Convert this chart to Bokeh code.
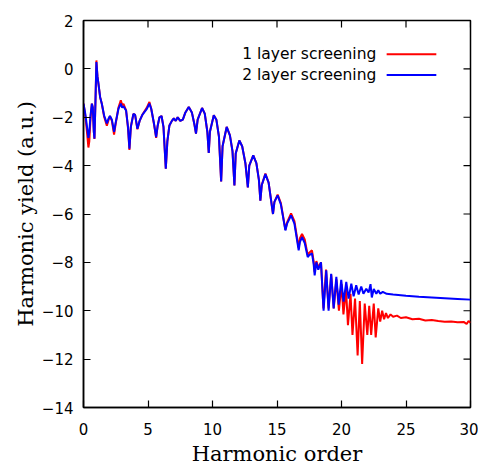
from bokeh.plotting import figure
from bokeh.models import Range1d, FixedTicker, Label, Arrow
from bokeh.embed import file_html
from bokeh.resources import INLINE

# ---- data ----
x_ticks = [0, 5, 10, 15, 20, 25, 30]
y_ticks = [-14, -12, -10, -8, -6, -4, -2, 0, 2]

blue_label = "2 layer screening"
red_label = "1 layer screening"

blue_x = [0.0, 0.12, 0.25, 0.38, 0.45, 0.55, 0.65, 0.72, 0.8, 0.85, 0.92, 1.0, 1.08, 1.16, 1.29, 1.42,
          1.6, 1.81, 1.95, 2.05, 2.2, 2.37, 2.5, 2.58, 2.71, 2.89, 3.0, 3.1, 3.3, 3.45, 3.56, 3.67,
          3.87, 4.0, 4.18, 4.35, 4.56, 4.91, 5.11, 5.25, 5.47, 5.63, 5.75, 5.89, 6.05, 6.2, 6.38, 6.5,
          6.66, 6.85, 7.0, 7.15, 7.3, 7.5, 7.7, 7.9, 8.16, 8.4, 8.6, 8.72, 8.85, 9.19, 9.4, 9.6,
          9.71, 9.8, 10.1, 10.3, 10.5, 10.67, 10.78, 11.1, 11.35, 11.55, 11.7, 11.8, 12.08, 12.3,
          12.55, 12.74, 12.85, 13.16, 13.4, 13.6, 13.71, 13.82, 14.1, 14.35, 14.69, 14.8, 15.05,
          15.3, 15.65, 15.78, 16.09, 16.35, 16.68, 16.78, 16.94, 17.15, 17.38, 17.5, 17.71, 17.84,
          17.92, 18.05, 18.2, 18.41, 18.61, 18.82, 19.0, 19.2, 19.39, 19.6, 19.78, 19.98, 20.16,
          20.37, 20.55, 20.76, 20.94, 21.14, 21.33, 21.53, 21.7, 21.92, 22.1, 22.25, 22.35, 22.5,
          22.7, 22.85, 23.0, 23.2, 23.5, 24.0, 25.0, 26.0, 27.0, 28.0, 29.0, 30.0]
blue_y = [-1.44, -1.8, -2.3, -2.85, -2.6, -1.9, -1.44, -1.6, -2.6, -2.88, -1.5, 0.28, -0.3, -0.62,
          -1.17, -1.44, -1.93, -2.25, -2.05, -1.95, -2.1, -2.6, -2.2, -2.0, -1.65, -1.44, -1.6,
          -1.55, -1.72, -2.4, -3.3, -2.4, -1.86, -1.9, -2.48, -2.15, -1.9, -1.65, -1.44, -1.65,
          -2.27, -2.82, -2.35, -2.0, -1.95, -2.4, -4.13, -3.0, -2.34, -2.15, -2.05, -2.15, -2.0,
          -2.15, -2.1, -1.8, -1.58, -1.8, -2.3, -2.68, -2.1, -1.62, -1.85, -2.6, -3.48, -2.6, -1.92,
          -2.1, -2.8, -4.65, -3.2, -2.4, -2.75, -3.4, -4.82, -3.5, -2.96, -3.2, -3.9, -4.9, -4.0,
          -3.58, -3.9, -4.6, -5.45, -4.8, -4.35, -4.7, -6.0, -5.5, -5.23, -5.6, -6.68, -6.4, -6.06,
          -6.4, -7.5, -7.15, -6.96, -7.2, -7.78, -7.7, -7.63, -8.06, -8.54, -8.0, -8.3, -8.0, -10.0,
          -8.33, -10.0, -8.47, -9.9, -8.6, -9.75, -8.72, -9.62, -8.81, -9.5, -8.88, -9.4, -8.95,
          -9.33, -9.0, -9.3, -9.09, -9.25, -8.9, -9.45, -9.1, -9.3, -9.15, -9.3, -9.22, -9.3, -9.33,
          -9.38, -9.42, -9.45, -9.48, -9.51, -9.54]

red_x = [0.0, 0.12, 0.25, 0.38, 0.45, 0.55, 0.65, 0.72, 0.8, 0.85, 0.92, 1.0, 1.08, 1.16, 1.29, 1.42,
         1.6, 1.81, 1.95, 2.05, 2.2, 2.37, 2.5, 2.58, 2.71, 2.89, 3.0, 3.1, 3.3, 3.45, 3.56, 3.67,
         3.87, 4.0, 4.18, 4.35, 4.56, 4.91, 5.11, 5.25, 5.47, 5.63, 5.75, 5.89, 6.05, 6.2, 6.38, 6.5,
         6.66, 6.85, 7.0, 7.15, 7.3, 7.5, 7.7, 7.9, 8.16, 8.4, 8.6, 8.72, 8.85, 9.19, 9.4, 9.6,
         9.71, 9.8, 10.1, 10.3, 10.5, 10.67, 10.78, 11.1, 11.35, 11.55, 11.7, 11.8, 12.08, 12.3,
         12.55, 12.74, 12.85, 13.16, 13.4, 13.6, 13.71, 13.82, 14.1, 14.35, 14.69, 14.8, 15.05,
         15.3, 15.65, 15.78, 16.09, 16.35, 16.68, 16.78, 16.94, 17.15, 17.38, 17.5, 17.71, 17.84,
         17.92, 18.05, 18.2, 18.41, 18.6, 18.8, 19.0, 19.2, 19.4, 19.6, 19.8, 20.0, 20.15, 20.35,
         20.5, 20.7, 20.85, 21.05, 21.25, 21.42, 21.6, 21.8, 22.0, 22.15, 22.3, 22.5, 22.65, 22.85,
         23.0, 23.15, 23.3, 23.45, 23.6, 23.8, 24.0, 24.3, 24.6, 25.0, 25.5, 26.0, 26.5, 27.0, 27.5,
         28.0, 28.5, 29.0, 29.5, 29.7, 29.85, 30.0]
red_y = [-1.44, -1.85, -2.5, -3.25, -3.0, -2.0, -1.44, -1.6, -2.6, -2.9, -1.5, 0.35, -0.3, -0.62,
         -1.17, -1.44, -1.98, -2.35, -2.1, -1.95, -2.15, -2.72, -2.25, -2.0, -1.6, -1.3, -1.5,
         -1.45, -1.72, -2.45, -3.35, -2.4, -1.86, -1.9, -2.5, -2.15, -1.9, -1.6, -1.37, -1.65,
         -2.3, -2.85, -2.35, -2.0, -1.95, -2.4, -4.13, -3.0, -2.34, -2.15, -2.05, -2.15, -2.0,
         -2.15, -2.1, -1.8, -1.58, -1.8, -2.3, -2.68, -2.1, -1.62, -1.85, -2.6, -3.48, -2.6, -1.92,
         -2.1, -2.8, -4.65, -3.2, -2.4, -2.75, -3.4, -4.82, -3.5, -2.96, -3.2, -3.9, -4.9, -4.0,
         -3.58, -3.9, -4.6, -5.45, -4.8, -4.33, -4.7, -6.0, -5.5, -5.2, -5.55, -6.65, -6.35, -5.98,
         -6.3, -7.4, -7.0, -6.82, -7.05, -7.7, -7.6, -7.5, -7.95, -8.4, -7.95, -8.2, -8.0, -9.9,
         -8.3, -9.9, -8.5, -9.9, -8.7, -10.0, -8.9, -10.15, -9.1, -10.6, -9.3, -11.0, -9.5, -11.85,
         -9.6, -12.2, -9.7, -11.0, -9.8, -11.0, -9.7, -11.1, -9.9, -10.45, -10.0, -10.35, -10.1,
         -10.3, -10.15, -10.25, -10.2, -10.3, -10.27, -10.35, -10.33, -10.4, -10.38, -10.42,
         -10.45, -10.44, -10.48, -10.47, -10.55, -10.42, -10.5]

# ---- figure ----
FW, FH = 387, 387
x0, x1, y0, y1 = 0, 30, -14, 2
p = figure(frame_width=FW, frame_height=FH, x_range=Range1d(x0, x1), y_range=Range1d(y0, y1),
           output_backend="svg", toolbar_location=None,
           min_border_left=83, min_border_top=20, min_border_right=8, min_border_bottom=10)
p.xgrid.visible = False
p.ygrid.visible = False
p.outline_line_color = "black"
p.outline_line_width = 1.5

p.line(red_x, red_y, line_color="#ff0000", line_width=2)
p.line(blue_x, blue_y, line_color="#0000ff", line_width=2)

for ax, ticks in ((p.xaxis[0], x_ticks), (p.yaxis[0], y_ticks)):
    ax.ticker = FixedTicker(ticks=ticks)
    ax.axis_line_color = "black"
    ax.axis_line_width = 1.5
    ax.major_tick_in = 7
    ax.major_tick_out = 0
    ax.major_tick_line_color = "black"
    ax.major_tick_line_width = 1.2
    ax.minor_tick_in = 0
    ax.minor_tick_out = 0
    ax.major_label_text_font = "DejaVu Sans"
    ax.major_label_text_font_size = "15px"
    ax.major_label_text_color = "black"
    ax.axis_label_text_font = "DejaVu Serif"
    ax.axis_label_text_font_size = "21px"
    ax.axis_label_text_font_style = "normal"
    ax.axis_label_text_color = "black"

p.xaxis[0].axis_label = "Harmonic order"
p.yaxis[0].axis_label = "Harmonic yield (a.u.)"
p.xaxis[0].major_label_standoff = 15
p.xaxis[0].axis_label_standoff = 4
p.yaxis[0].major_label_standoff = 10
p.yaxis[0].axis_label_standoff = 1

# inward tick marks on the top and right frame edges (mirrors of the main ticks)
tick_dx = 7 * (x1 - x0) / FW
tick_dy = 7 * (y1 - y0) / FH
p.segment(x0=x_ticks, y0=[y1] * len(x_ticks), x1=x_ticks, y1=[y1 - tick_dy] * len(x_ticks),
          line_color="black", line_width=1.2)
p.segment(x0=[x1] * len(y_ticks), y0=y_ticks, x1=[x1 - tick_dx] * len(y_ticks), y1=y_ticks,
          line_color="black", line_width=1.2)

# ---- legend (gnuplot style: text then line sample) ----
legend_rows = [(red_label, "#ff0000", 0.6), (blue_label, "#0000ff", -0.25)]
for text, color, yy in legend_rows:
    p.add_layout(Label(x=22.7, y=yy, text=text, text_align="right", text_baseline="middle",
                       text_font="DejaVu Sans", text_font_size="15.5px", text_color="black"))
    p.add_layout(Arrow(x_start=23.5, y_start=yy, x_end=27.35, y_end=yy, end=None,
                       line_color=color, line_width=2))

open("out.html", "w").write(file_html(p, INLINE))
